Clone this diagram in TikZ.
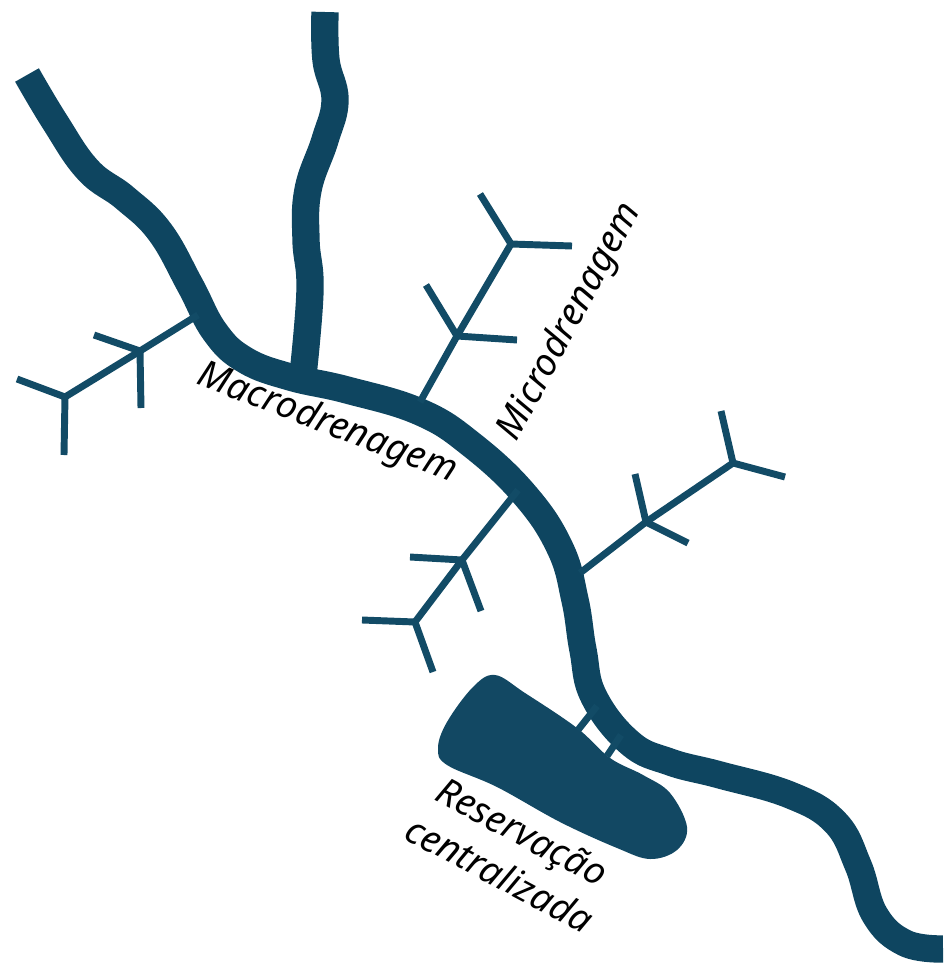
\documentclass[tikz,border=0pt]{standalone}
\usepackage{fontspec}
\setmainfont{Noto Sans}
\usetikzlibrary{calc, positioning}

\definecolor{riverblue}{HTML}{0E4560}
\definecolor{branchblue}{HTML}{124B66}
\definecolor{basinblue}{HTML}{124863}

\tikzset{
  macroline/.style={line width=20.5pt,riverblue,line join=round},
  microline/.style={line width=5.2pt,branchblue},
  basinshape/.style={fill=basinblue,draw=none},
  tag/.style={black,font=\fontsize{28}{36}\selectfont\itshape,inner sep=0pt,align=center}
}

\begin{document}
\begin{tikzpicture}[x=0.75pt,y=-0.75pt]
\useasboundingbox (0,0) rectangle (943,964);

% Reservoir
\fill[basinshape] plot[smooth cycle,tension=0.6] coordinates {
  (495,675) (525,693) (577,728) (610,758) (643,775) (670,793) (687,827)
  (677,850) (650,859) (617,848) (560,822) (497,787) (447,765) (438,748)
  (447,722) (473,687)};

% Main channel and its tributary
\draw[macroline] plot[smooth,tension=0.7] coordinates {
  (27,75) (55,122) (88,170) (125,198) (160,232) (190,285) (215,332)
  (245,360) (290,377) (347,390) (420,412) (472,445) (525,495) (560,548)
  (575,600) (583,650) (594,697) (630,743) (670,762) (720,775) (790,795)
  (835,822) (858,865) (875,915) (905,943) (943,949)};
\draw[macroline] plot[smooth,tension=0.7] coordinates {
  (325,12) (326,60) (335,100) (325,140) (308,190) (306,240) (310,290) (303,375)};

% Tree on the left
\coordinate (Ajoin) at (140,351);
\coordinate (Aend) at (65,397);
\draw[microline] (198,315) -- (Ajoin) -- (Aend);
\draw[microline] (94,335) -- (Ajoin) -- (141,408);
\draw[microline] (17,379) -- (Aend) -- (64,455);

% Tree on top
\coordinate (Bjoin) at (457,336);
\coordinate (Bend) at (511,244);
\draw[microline] (420,402) -- (Bjoin) -- (Bend);
\draw[microline] (426,285) -- (Bjoin) -- (517,340);
\draw[microline] (480,194) -- (Bend) -- (572,246);

% Tree below
\coordinate (Cjoin) at (462,560);
\coordinate (Cend) at (415,622);
\draw[microline] (518,490) -- (Cjoin) -- (Cend);
\draw[microline] (410,557) -- (Cjoin) -- (481,611);
\draw[microline] (362,620) -- (Cend) -- (433,672);

% Tree on the right
\coordinate (Djoin) at (646,522);
\coordinate (Dend) at (733,463);
\draw[microline] (580,573) -- (Djoin) -- (Dend);
\draw[microline] (635,474) -- (Djoin) -- (688,543);
\draw[microline] (721,411) -- (Dend) -- (785,477);

% Links to the reservoir
\draw[microline] (578,730) -- (597,706);
\draw[microline] (607,756) -- (621,735);

% Labels
\node[tag,rotate=-21] (macrolabel) at (327,424) {Macrodrenagem};
\node[tag,rotate=62] (microlabel) at (570,322) {Microdrenagem};
\node[tag,rotate=-28] (basinlabel) at (511,853) {Reservação\\centralizada};
\end{tikzpicture}
\end{document}
